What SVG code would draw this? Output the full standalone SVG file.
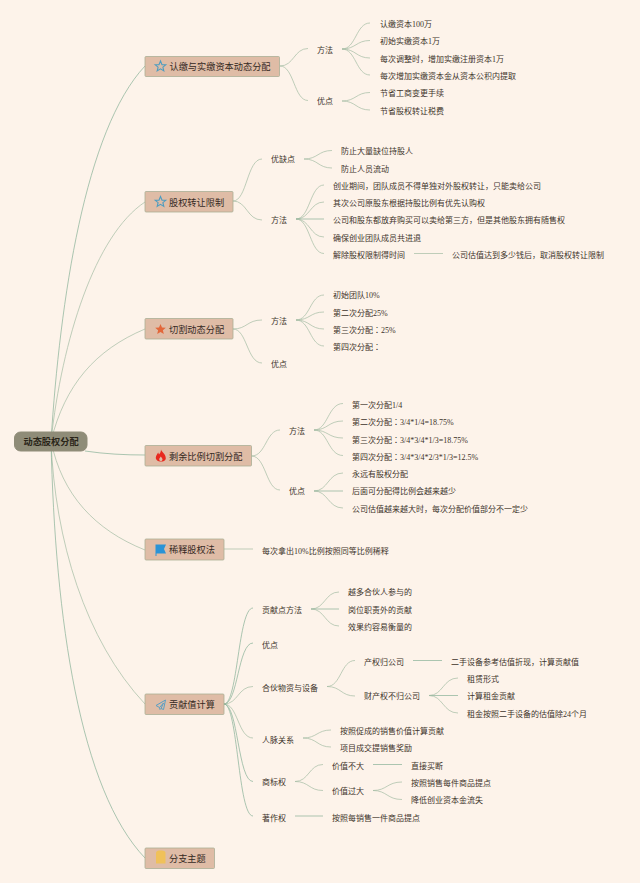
<svg xmlns="http://www.w3.org/2000/svg" width="640" height="883" viewBox="0 0 640 883">
<style>
text{font-family:"Liberation Serif","Noto Sans CJK SC",sans-serif;font-size:8px;fill:#3d332a}
.m{font-size:9.2px;fill:#35291f}
.r{font-size:9.2px;font-weight:bold;fill:#2a2518}
.c{font-family:"Noto Sans CJK TC",sans-serif}
.box{fill:#dfbca6;stroke:#a9ae96;stroke-width:.8}
.root{fill:#8f8c78;stroke:#8f8c78}
#conn path{fill:none;stroke:#a3bca3;stroke-width:.7}
#conn .d{stroke:#86b096}
</style>
<defs>
<path id="star" d="M0-5.5 1.5-1.9 5.3-1.7 2.4.7 3.3 4.4 0 2.4-3.3 4.4-2.4.7-5.3-1.7-1.5-1.9Z"/>
</defs>
<rect width="640" height="883" fill="#fdf3ea"/>
<g id="conn">
<path class="d" d="M51 441C60 300 85 130 145 66"/>
<path d="M51 441C62 340 95 235 145 202"/>
<path d="M51 441C65 385 95 350 145 329"/>
<path class="d" d="M85 451C105 454 125 455 145 455"/>
<path d="M51 441C62 495 95 530 145 550"/>
<path d="M51 441C55 540 85 640 145 704"/>
<path class="d" d="M51 441C55 620 80 790 145 858"/>
<path d="M280 66C294 66 294 48.500 308 48.500"/>
<path d="M280 66C294 66 294 100.500 308 100.500"/>
<path d="M342 49C356 49 356 23 370 23"/>
<path d="M342 49C356 49 356 40.500 370 40.500"/>
<path d="M342 49C356 49 356 58 370 58"/>
<path d="M342 49C356 49 356 75 370 75"/>
<path d="M342 101C356 101 356 92.500 370 92.500"/>
<path d="M342 101C356 101 356 110 370 110"/>
<path d="M233 201C247 201 247 159 262 159"/>
<path d="M233 201C247 201 247 220 262 220"/>
<path d="M304 159C318 159 318 150.500 332 150.500"/>
<path d="M304 159C318 159 318 168 332 168"/>
<path d="M296 219C310 219 310 185 324 185"/>
<path d="M296 219C310 219 310 202 324 202"/>
<path class="d" d="M296 219H324"/>
<path d="M296 219C310 219 310 237 324 237"/>
<path d="M296 219C310 219 310 253.500 324 253.500"/>
<path d="M414 253.500H443"/>
<path d="M233 329C247 329 247 320 262 320"/>
<path d="M233 329C247 329 247 363 262 363"/>
<path d="M296 320C310 320 310 295 324 295"/>
<path d="M296 320C310 320 310 312 324 312"/>
<path d="M296 320C310 320 310 329 324 329"/>
<path d="M296 320C310 320 310 346 324 346"/>
<path d="M251.500 456C266 456 266 430 280 430"/>
<path d="M251.500 456C266 456 266 490 280 490"/>
<path d="M314 430C328 430 328 403.500 343 403.500"/>
<path d="M314 430C328 430 328 421 343 421"/>
<path d="M314 430C328 430 328 438 343 438"/>
<path d="M314 430C328 430 328 455.500 343 455.500"/>
<path d="M314 491C328 491 328 473 343 473"/>
<path class="d" d="M314 491H343"/>
<path d="M314 491C328 491 328 508 343 508"/>
<path d="M224 549H253"/>
<path class="d" d="M224 704C238 704 238 608 253 608"/>
<path class="d" d="M224 704C238 704 238 643 253 643"/>
<path d="M224 704C238 704 238 686.500 253 686.500"/>
<path d="M224 704C238 704 238 738 253 738"/>
<path class="d" d="M224 704C238 704 238 781.500 253 781.500"/>
<path class="d" d="M224 704C238 704 238 816 253 816"/>
<path d="M311 609C325 609 325 592 339 592"/>
<path class="d" d="M311 609H339"/>
<path d="M311 609C325 609 325 626 339 626"/>
<path d="M327 686.500C341 686.500 341 660.500 355 660.500"/>
<path d="M327 686.500C341 686.500 341 696 355 696"/>
<path class="d" d="M413 660.500H442"/>
<path d="M429 695.500C443 695.500 443 678 458 678"/>
<path class="d" d="M429 695.500H458"/>
<path d="M429 695.500C443 695.500 443 713 458 713"/>
<path d="M303 738C317 738 317 730 331 730"/>
<path d="M303 738C317 738 317 747 331 747"/>
<path d="M295 781.500C309 781.500 309 764.500 323 764.500"/>
<path d="M295 781.500C309 781.500 309 790.500 323 790.500"/>
<path class="d" d="M373 764.500H402"/>
<path d="M373 790.500C387 790.500 387 782 402 782"/>
<path d="M373 790.500C387 790.500 387 799.500 402 799.500"/>
<path class="d" d="M295 816H323"/>
</g>
<g id="root"><rect class="root" x="14.500" y="432" width="72.500" height="19" rx="6"/><text class="r" x="23.500" y="445">动态股权分配</text></g>
<g id="b1"><rect class="box" x="145" y="56.500" width="134.500" height="20" rx="1"/><use href="#star" x="160.500" y="66.500" fill="none" stroke="#4d9cc0" stroke-width="1.100"/><text class="m" x="169.500" y="70">认缴与实缴资本动态分配</text></g>
<g id="b2"><rect class="box" x="145" y="191.500" width="88" height="20.500" rx="1"/><use href="#star" x="160.500" y="202" fill="none" stroke="#4d9cc0" stroke-width="1.100"/><text class="m" x="169" y="205.500">股权转让限制</text></g>
<g id="b3"><rect class="box" x="145" y="318.500" width="88" height="20.500" rx="1"/><use href="#star" x="160.500" y="329.500" fill="#e2673a"/><text class="m" x="169" y="332.500">切割动态分配</text></g>
<g id="b4"><rect class="box" x="145" y="445.500" width="106.500" height="20.500" rx="1"/><path d="M161 449.500C161.500 452 166 454 165.800 458.500 165.500 461 163 461.500 161 461.500 158 461.500 155.700 460 155.800 457.500 156 455 157.500 454 158.200 452.500L159 454.500C160 453.500 161 451.500 161 449.500ZM160.800 456.500C159.800 457.800 159 458.700 159.300 460 159.600 460.700 160.300 461 161 461 161.800 461 162.500 460.400 162.500 459.500 162.500 458.300 161.500 457.500 160.800 456.500Z" fill="#e8291f" fill-rule="evenodd"/><text class="m" x="169" y="459.500">剩余比例切割分配</text></g>
<g id="b5"><rect class="box" x="145" y="539" width="79" height="21" rx="1"/><path d="M155.500 544.500H166L164 549 166 553.500H156.500V556H155.500Z" fill="#2a93d6"/><text class="m" x="169" y="553">稀释股权法</text></g>
<g id="b6"><rect class="box" x="145" y="694" width="79" height="20.500" rx="1"/><path d="M165.500 700 156 705.500 159.500 707.500 163.500 703 161 708.500 163.500 709.500 165.500 700ZM159.500 707.500 160 709.500 161 708.500" fill="none" stroke="#5a9fc4" stroke-width="1"/><text class="m" x="169" y="707.500">贡献值计算</text></g>
<g id="b7"><rect class="box" x="145" y="848" width="69.500" height="20.500" rx="1"/><path d="M156 853C156 851 158 850.500 160.500 850.500 163 850.500 165.500 851 165.500 853V863.500H156Z" fill="#f0c15a"/><text class="m" x="169" y="862">分支主题</text></g>
<g id="t1"><text x="317" y="52.500">方法</text></g>
<g id="t2"><text x="317" y="104">优点</text></g>
<g id="t3"><text x="380" y="26.500">认缴资本100万</text></g>
<g id="t4"><text x="380" y="44">初始实缴资本1万</text></g>
<g id="t5"><text x="380" y="61.500">每次调整时，增加实缴注册资本1万</text></g>
<g id="t6"><text x="380" y="78.700">每次增加实缴资本金从资本公积内提取</text></g>
<g id="t7"><text x="380" y="96">节省工商变更手续</text></g>
<g id="t8"><text x="380" y="113.500">节省股权转让税费</text></g>
<g id="t9"><text x="271" y="162">优缺点</text></g>
<g id="t10"><text x="271" y="223">方法</text></g>
<g id="t11"><text x="341" y="154">防止大量缺位持股人</text></g>
<g id="t12"><text x="341" y="171.500">防止人员流动</text></g>
<g id="t13"><text x="333" y="188.500">创业期间，团队成员不得单独对外股权转让，只能卖给公司</text></g>
<g id="t14"><text x="333" y="206">其次公司原股东根据持股比例有优先认购权</text></g>
<g id="t15"><text x="333" y="223">公司和股东都放弃购买可以卖给第三方，但是其他股东拥有随售权</text></g>
<g id="t16"><text x="333" y="240.500">确保创业团队成员共进退</text></g>
<g id="t17"><text x="333" y="257.700">解除股权限制得时间</text></g>
<g id="t18"><text x="452" y="257.700">公司估值达到多少钱后，取消股权转让限制</text></g>
<g id="t19"><text x="271" y="324">方法</text></g>
<g id="t20"><text x="271" y="367">优点</text></g>
<g id="t21"><text x="333" y="298">初始团队10%</text></g>
<g id="t22"><text x="333" y="315.500">第二次分配25%</text></g>
<g id="t23"><text x="333" y="332.700">第三次分配<tspan class="c">：</tspan>25%</text></g>
<g id="t24"><text x="333" y="350">第四次分配<tspan class="c">：</tspan></text></g>
<g id="t25"><text x="289" y="434">方法</text></g>
<g id="t26"><text x="289" y="494">优点</text></g>
<g id="t27"><text x="352" y="407.700">第一次分配1/4</text></g>
<g id="t28"><text x="352" y="425">第二次分配<tspan class="c">：</tspan>3/4*1/4=18.75%</text></g>
<g id="t29"><text x="352" y="442.500">第三次分配<tspan class="c">：</tspan>3/4*3/4*1/3=18.75%</text></g>
<g id="t30"><text x="352" y="459.500">第四次分配<tspan class="c">：</tspan>3/4*3/4*2/3*1/3=12.5%</text></g>
<g id="t31"><text x="352" y="477">永远有股权分配</text></g>
<g id="t32"><text x="352" y="494">后面可分配得比例会越来越少</text></g>
<g id="t33"><text x="352" y="511.500">公司估值越来越大时，每次分配价值部分不一定少</text></g>
<g id="t34"><text x="262" y="553.500">每次拿出10%比例按照同等比例稀释</text></g>
<g id="t35"><text x="262" y="612.500">贡献点方法</text></g>
<g id="t36"><text x="262" y="647.500">优点</text></g>
<g id="t37"><text x="262" y="690.500">合伙物资与设备</text></g>
<g id="t38"><text x="262" y="742.500">人脉关系</text></g>
<g id="t39"><text x="262" y="785">商标权</text></g>
<g id="t40"><text x="262" y="820.500">著作权</text></g>
<g id="t41"><text x="348" y="595">越多合伙人参与的</text></g>
<g id="t42"><text x="348" y="612.500">岗位职责外的贡献</text></g>
<g id="t43"><text x="348" y="629.500">效果约容易衡量的</text></g>
<g id="t44"><text x="364" y="664.500">产权归公司</text></g>
<g id="t45"><text x="364" y="699">财产权不归公司</text></g>
<g id="t46"><text x="451" y="664.500">二手设备参考估值折现，计算贡献值</text></g>
<g id="t47"><text x="467" y="682">租赁形式</text></g>
<g id="t48"><text x="467" y="699">计算租金贡献</text></g>
<g id="t49"><text x="467" y="716.500">租金按照二手设备的估值除24个月</text></g>
<g id="t50"><text x="340" y="733.500">按照促成的销售价值计算贡献</text></g>
<g id="t51"><text x="340" y="751">项目成交提销售奖励</text></g>
<g id="t52"><text x="332" y="768.500">价值不大</text></g>
<g id="t53"><text x="332" y="794">价值过大</text></g>
<g id="t54"><text x="411" y="768.500">直接买断</text></g>
<g id="t55"><text x="411" y="786">按照销售每件商品提点</text></g>
<g id="t56"><text x="411" y="803">降低创业资本金流失</text></g>
<g id="t57"><text x="332" y="820.500">按照每销售一件商品提点</text></g>
</svg>
